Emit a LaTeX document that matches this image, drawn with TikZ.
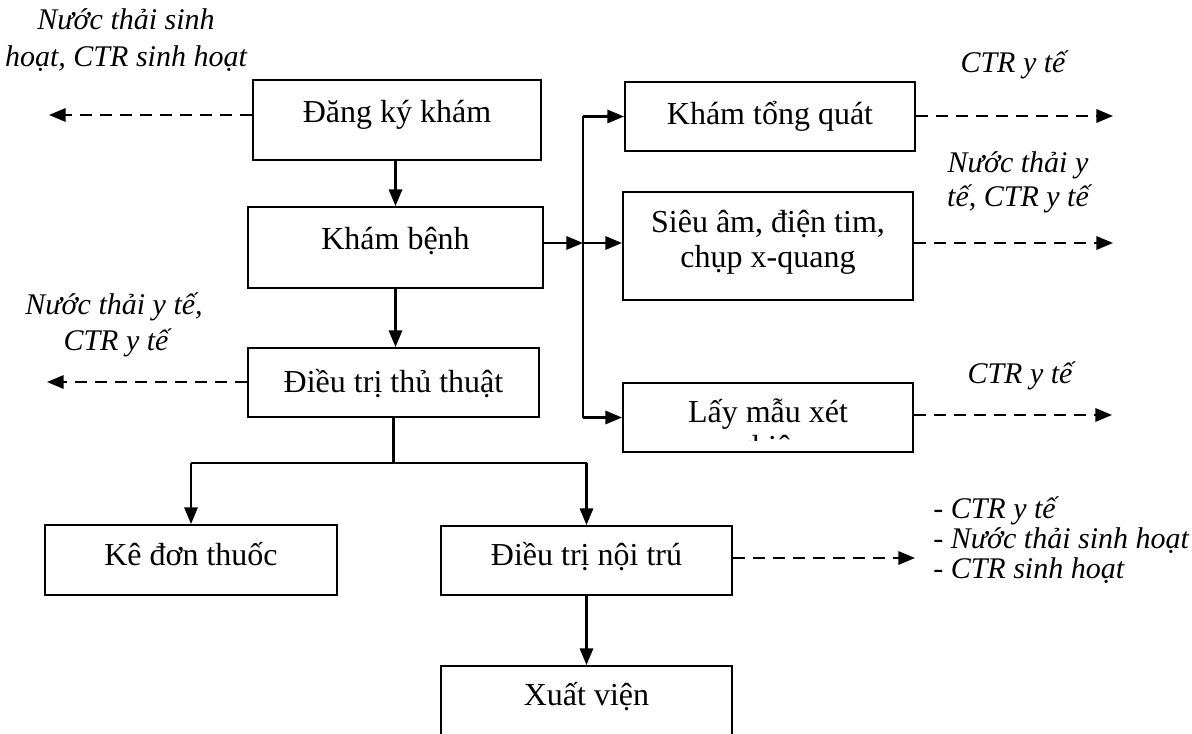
\documentclass[tikz,border=0pt]{standalone}
\usepackage{fontspec}
\setmainfont{Liberation Serif}
\usetikzlibrary{arrows.meta,fit}

\begin{document}
\begin{tikzpicture}[x=0.75pt,y=-0.75pt,
  box/.style={draw, line width=1.5pt, inner sep=0pt},
  boxtext/.style={anchor=base, inner sep=0pt, font=\fontsize{24}{27}\selectfont},
  note/.style={anchor=base, inner sep=0pt, font=\fontsize{22.5}{25}\selectfont\itshape},
  notelist/.style={note, anchor=base west},
  flowline/.style={line width=1.7pt},
  flow/.style={flowline, -{Triangle[length=12.5pt,width=10pt]}},
  waste/.style={line width=1.7pt, dash pattern=on 9pt off 6pt, -{Triangle[length=12.5pt,width=10pt]}},
]
\useasboundingbox (0,0) rectangle (1192,734);

% process boxes
\node[box, fit={(253,80) (541,160)}]  (dk)  {};
\node[box, fit={(248,207) (543,288)}] (kb)  {};
\node[box, fit={(248,348) (539,417)}] (dt)  {};
\node[box, fit={(625,82) (915,151)}]  (ktq) {};
\node[box, fit={(623,192) (913,300)}] (sa)  {};
\node[box, fit={(623,383) (913,452)}] (lm)  {};
\node[box, fit={(45,525) (337,595)}]  (kd)  {};
\node[box, fit={(441,526) (732,595)}] (dnt) {};
\node[box, fit={(441,666) (732,770)}] (xv)  {};

% box captions
\node[boxtext] (tdk)  at (397,123)   {Đăng ký khám};
\node[boxtext] (tkb)  at (395.5,250) {Khám bệnh};
\node[boxtext] (tdt)  at (393.5,392) {Điều trị thủ thuật};
\node[boxtext] (tktq) at (770,125)   {Khám tổng quát};
\node[boxtext] (tsa1) at (768,233)   {Siêu âm, điện tim,};
\node[boxtext] (tsa2) at (768,268)   {chụp x-quang};
\node[boxtext] (tlm1) at (768,422)   {Lấy mẫu xét};
\begin{scope}
  \clip (lm.north west) rectangle (lm.east |- 0,440);
  \node[boxtext] (tlm2) at (768,457) {nghiệm};
\end{scope}
\node[boxtext] (tkd)  at (191,565)   {Kê đơn thuốc};
\node[boxtext] (tdnt) at (586.5,565) {Điều trị nội trú};
\node[boxtext] (txv)  at (586.5,705) {Xuất viện};

% main flow
\draw[flow] (dk.south -| kb.north) -- (kb.north);
\draw[flow] (kb.south) -- (kb.south |- dt.north);

% branch to the examinations
\coordinate (busx) at (583,0);
\coordinate (bt) at (ktq.west -| busx);
\coordinate (bb) at (lm.west -| busx);
\draw[flowline] (bt) -- (bb);
\draw[flow] (kb.east |- 0,243) -- (busx |- 0,243);
\draw[flow] (bt) -- (ktq.west);
\draw[flow] (busx |- 0,243) -- (sa.west |- 0,243);
\draw[flow] (bb) -- (lm.west);

% split after the procedure
\coordinate (jy) at (0,463);
\draw[flowline] (dt.south) -- (dt.south |- jy);
\draw[flowline] (kd.north |- jy) -- (dnt.north |- jy);
\draw[flow] (kd.north |- jy) -- (kd.north);
\draw[flow] (dnt.north |- jy) -- (dnt.north);
\draw[flow] (dnt.south) -- (xv.north);

% waste outputs
\coordinate (w1) at (49,115);
\coordinate (w2) at (47,382);
\coordinate (w3) at (1113,116);
\coordinate (w4) at (1113,243);
\coordinate (w5) at (1112,415);
\coordinate (w6) at (915,558);
\draw[waste] (w1 -| dk.west) -- (w1);
\draw[waste] (w2 -| dt.west) -- (w2);
\draw[waste] (w3 -| ktq.east) -- (w3);
\draw[waste] (w4 -| sa.east) -- (w4);
\draw[waste] (w5 -| lm.east) -- (w5);
\draw[waste] (w6 -| dnt.east) -- (w6);

% waste labels
\node[note] (n1a) at (126,30)  {Nước thải sinh};
\node[note] (n1b) at (126,67)  {hoạt, CTR sinh hoạt};
\node[note] (n2a) at (114,315) {Nước thải y tế,};
\node[note] (n2b) at (116,350) {CTR y tế};
\node[note] (n3)  at (1013,73) {CTR y tế};
\node[note] (n4a) at (1018,173) {Nước thải y};
\node[note] (n4b) at (1018,207) {tế, CTR y tế};
\node[note] (n5)  at (1020,383) {CTR y tế};
\node[notelist] (n6a) at (933,518) {- CTR y tế};
\node[notelist] (n6b) at (933,548) {- Nước thải sinh hoạt};
\node[notelist] (n6c) at (933,578) {- CTR sinh hoạt};
\end{tikzpicture}
\end{document}
